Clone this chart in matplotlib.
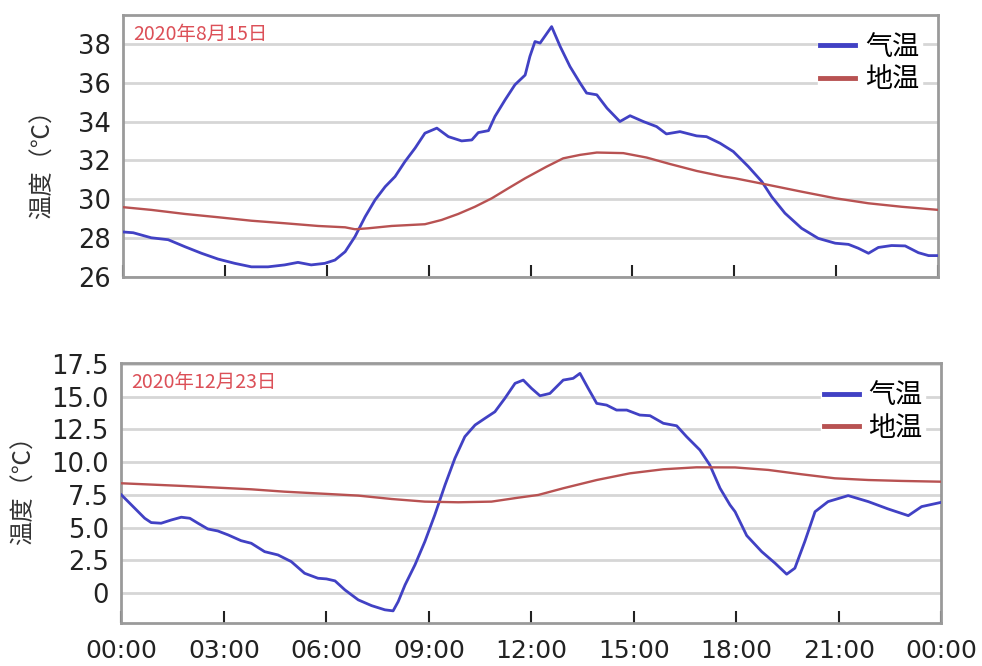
import matplotlib.pyplot as plt
from matplotlib.font_manager import FontProperties

plt.rcParams["font.family"] = ["DejaVu Sans", "Noto Sans CJK SC"]

# 2020-08-15, hours and temperatures
aug_air_hours = [0.0, 0.3, 0.83, 1.33, 1.82, 2.31, 2.8, 3.29, 3.78, 4.27, 4.76, 5.15, 5.54, 5.94,
                 6.24, 6.54, 6.83, 7.13, 7.42, 7.72, 8.01, 8.3, 8.6, 8.89, 9.24, 9.58, 9.97, 10.27,
                 10.46, 10.76, 10.95, 11.25, 11.54, 11.84, 11.98, 12.13, 12.28, 12.62, 12.87, 13.16,
                 13.46, 13.65, 13.95, 14.25, 14.63, 14.93, 15.32, 15.71, 16.0, 16.4, 16.89, 17.18,
                 17.58, 17.97, 18.41, 18.81, 19.1, 19.49, 19.98, 20.47, 20.97, 21.36, 21.65, 21.95,
                 22.24, 22.63, 23.03, 23.42, 23.72, 24.0]
aug_air_temp = [28.3, 28.26, 28.0, 27.9, 27.54, 27.2, 26.9, 26.68, 26.5, 26.5, 26.6, 26.73, 26.6, 26.68,
                26.85, 27.28, 28.06, 29.09, 29.95, 30.64, 31.16, 31.93, 32.63, 33.4, 33.66, 33.22, 33.0, 33.05,
                33.43, 33.53, 34.26, 35.12, 35.9, 36.4, 37.36, 38.13, 38.05, 38.9, 37.88, 36.84,
                35.98, 35.47, 35.38, 34.69, 34.0, 34.3, 34.0, 33.74, 33.36, 33.48, 33.26, 33.22,
                32.88, 32.45, 31.68, 30.9, 30.12, 29.27, 28.49, 27.97, 27.72, 27.66, 27.46, 27.2,
                27.5, 27.6, 27.58, 27.23, 27.08, 27.08]
aug_soil_hours = [0.0, 0.83, 1.82, 2.8, 3.78, 4.76, 5.74, 6.54, 6.83, 7.22, 7.91, 8.89, 9.38, 9.87,
                  10.36, 10.86, 11.35, 11.84, 12.47, 12.96, 13.46, 13.95, 14.73, 15.42, 16.1, 16.89,
                  17.68, 18.02, 19.0, 19.98, 20.97, 21.95, 22.93, 24.0]
aug_soil_temp = [29.58, 29.44, 29.23, 29.06, 28.88, 28.75, 28.61, 28.54, 28.44, 28.49, 28.61, 28.7, 28.92, 29.23,
                 29.6, 30.04, 30.56, 31.07, 31.67, 32.1, 32.28, 32.4, 32.37, 32.14, 31.81, 31.45,
                 31.16, 31.07, 30.73, 30.38, 30.04, 29.78, 29.6, 29.44]

# 2020-12-23
dec_air_hours = [0.0, 0.39, 0.68, 0.87, 1.16, 1.46, 1.75, 2.0, 2.24, 2.53, 2.82, 3.12, 3.5, 3.8, 4.19,
                 4.58, 4.97, 5.36, 5.75, 6.0, 6.25, 6.54, 6.93, 7.32, 7.71, 7.95, 8.1, 8.3, 8.59, 8.88,
                 9.17, 9.47, 9.76, 10.05, 10.35, 10.64, 10.93, 11.22, 11.52, 11.76, 12.0, 12.25, 12.54,
                 12.93, 13.22, 13.42, 13.66, 13.91, 14.2, 14.49, 14.79, 15.17, 15.47, 15.86, 16.25,
                 16.54, 16.93, 17.22, 17.52, 17.81, 17.96, 18.3, 18.74, 19.13, 19.47, 19.71, 20.0,
                 20.3, 20.68, 21.27, 21.86, 22.44, 23.03, 23.42, 24.0]
dec_air_temp = [7.5, 6.48, 5.72, 5.39, 5.34, 5.59, 5.8, 5.72, 5.34, 4.9, 4.75, 4.45, 4.01, 3.81, 3.17,
                2.92, 2.41, 1.52, 1.14, 1.09, 0.94, 0.25, -0.51, -0.95, -1.27, -1.35, -0.64, 0.63, 2.16, 3.94,
                5.97, 8.26, 10.3, 11.95, 12.84, 13.35, 13.85, 14.87, 16.02, 16.27, 15.64, 15.07, 15.25,
                16.27, 16.4, 16.78, 15.64, 14.49, 14.36, 13.98, 13.98, 13.6, 13.55, 12.97, 12.78,
                11.95, 10.93, 9.79, 8.01, 6.74, 6.22, 4.4, 3.17, 2.29, 1.45, 1.91, 3.94,
                6.22, 6.99, 7.45, 6.99, 6.43, 5.92, 6.61, 6.94]
dec_soil_hours = [0.0, 1.85, 3.8, 4.77, 6.0, 6.93, 7.91, 8.88, 9.86, 10.83, 11.61, 12.2, 12.93, 13.91,
                  14.88, 15.86, 16.83, 17.96, 18.93, 19.9, 20.88, 21.86, 22.83, 24.0]
dec_soil_temp = [8.39, 8.18, 7.93, 7.75, 7.58, 7.45, 7.19, 6.99, 6.94, 6.99, 7.29, 7.5, 8.01, 8.64,
                 9.15, 9.46, 9.61, 9.6, 9.41, 9.08, 8.77, 8.64, 8.57, 8.51]

time_ticks = [0, 3, 6, 9, 12, 15, 18, 21, 24]
time_labels = ["00:00", "03:00", "06:00", "09:00", "12:00", "15:00", "18:00", "21:00", "00:00"]
aug_yticks = [26, 28, 30, 32, 34, 36, 38]
dec_yticks = [0, 2.5, 5.0, 7.5, 10.0, 12.5, 15.0, 17.5]
dec_ylabels = ["0", "2.5", "5.0", "7.5", "10.0", "12.5", "15.0", "17.5"]

CJK = "Noto Sans CJK SC"
AIR_COLOR = "#4141c4"
SOIL_COLOR = "#b85252"


def draw_panel(ax, air_h, air_t, soil_h, soil_t, date_text):
    ax.plot(air_h, air_t, color=AIR_COLOR, linewidth=2, label="气温", zorder=3)
    ax.plot(soil_h, soil_t, color=SOIL_COLOR, linewidth=1.7, label="地温", zorder=3)
    ax.set_xlim(0, 24)
    ax.set_xticks(time_ticks)
    ax.grid(axis="y", color="#d6d6d6", linewidth=2)
    ax.set_axisbelow(True)
    for spine in ax.spines.values():
        spine.set_color("#9a9a9a")
        spine.set_linewidth(2)
    ax.tick_params(axis="x", direction="in", length=9, width=1.5, color="#222222")
    ax.tick_params(axis="y", length=0, pad=9, labelsize=18.5, labelcolor="#222222")
    ax.text(0.012, 0.925, date_text, transform=ax.transAxes, fontsize=14,
            family=[CJK, "DejaVu Sans"], color="#dc5058", va="center", ha="left")
    leg = ax.legend(loc="upper right", prop=FontProperties(family=CJK, size=19.5),
                    frameon=True, fancybox=False, facecolor="white", edgecolor="white", framealpha=1,
                    handlelength=1.3, handletextpad=0.35, labelspacing=0.2, borderpad=0.1,
                    borderaxespad=0.6)
    leg.set_zorder(5)
    for line in leg.get_lines():
        line.set_linewidth(3.5)
    ax.set_ylabel("温度（℃）", family=[CJK, "DejaVu Sans"], fontsize=17.5, color="#333333")


fig = plt.figure(figsize=(9.82, 6.66), dpi=100)

ax_top = fig.add_axes([0.1253, 0.5848, 0.830, 0.3927])
draw_panel(ax_top, aug_air_hours, aug_air_temp, aug_soil_hours, aug_soil_temp, "2020年8月15日")
ax_top.set_ylim(26, 39.5)
ax_top.set_yticks(aug_yticks)
ax_top.tick_params(axis="x", labelbottom=False)
ax_top.yaxis.set_label_coords(-0.083, 0.45)

ax_bot = fig.add_axes([0.1237, 0.0641, 0.835, 0.3904])
draw_panel(ax_bot, dec_air_hours, dec_air_temp, dec_soil_hours, dec_soil_temp, "2020年12月23日")
ax_bot.set_ylim(-2.3, 17.55)
ax_bot.set_yticks(dec_yticks)
ax_bot.set_yticklabels(dec_ylabels)
ax_bot.set_xticklabels(time_labels)
ax_bot.tick_params(axis="x", pad=11, labelsize=18, labelcolor="#222222")
ax_bot.yaxis.set_label_coords(-0.103, 0.535)

fig.savefig("out.png", dpi=100)
